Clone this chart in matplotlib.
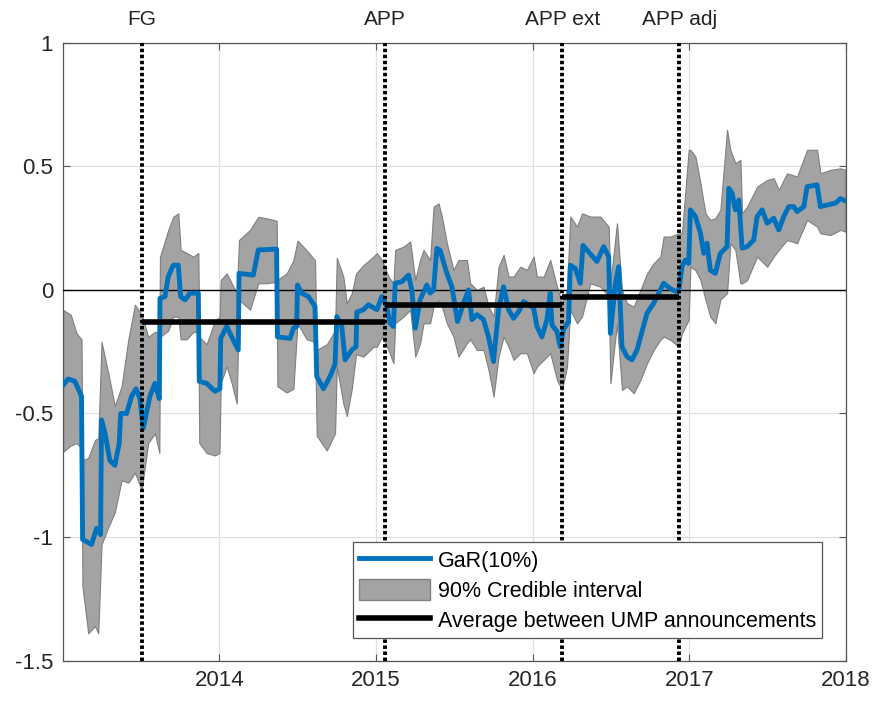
import matplotlib
matplotlib.use("Agg")
import matplotlib.pyplot as plt
import matplotlib.transforms as mtransforms
from matplotlib.patches import Patch
from matplotlib.lines import Line2D

plt.rcParams['font.family'] = ['Liberation Sans', 'DejaVu Sans']
plt.rcParams['axes.unicode_minus'] = False

# GaR(10%) path, decimal years
gar_x = [2013.002, 2013.034, 2013.077, 2013.119, 2013.126, 2013.183, 2013.215, 2013.241,
         2013.247, 2013.269, 2013.300, 2013.332, 2013.360, 2013.369, 2013.407, 2013.439,
         2013.467, 2013.492, 2013.513, 2013.556, 2013.588, 2013.616, 2013.620, 2013.652,
         2013.673, 2013.705, 2013.737, 2013.752, 2013.780, 2013.812, 2013.865, 2013.871,
         2013.918, 2013.971, 2014.003, 2014.008, 2014.046, 2014.078, 2014.120, 2014.125,
         2014.216, 2014.248, 2014.365, 2014.370, 2014.451, 2014.472, 2014.493, 2014.498,
         2014.525, 2014.568, 2014.610, 2014.621, 2014.664, 2014.706, 2014.738, 2014.749,
         2014.781, 2014.802, 2014.845, 2014.872, 2014.877, 2014.919, 2014.951,
         2015.005, 2015.037, 2015.064, 2015.090, 2015.111, 2015.122, 2015.164, 2015.207,
         2015.228, 2015.250, 2015.281, 2015.324, 2015.345, 2015.367, 2015.388, 2015.409,
         2015.452, 2015.484, 2015.520, 2015.558, 2015.590, 2015.612, 2015.644, 2015.686,
         2015.718, 2015.750, 2015.782, 2015.814, 2015.846, 2015.878, 2015.910, 2015.942,
         2015.974, 2016.006, 2016.027, 2016.059, 2016.091, 2016.112, 2016.123, 2016.155,
         2016.176, 2016.197, 2016.229, 2016.240, 2016.272, 2016.304, 2016.321, 2016.368,
         2016.410, 2016.453, 2016.485, 2016.496, 2016.528, 2016.549, 2016.570, 2016.602,
         2016.634, 2016.666, 2016.698, 2016.730, 2016.772, 2016.815, 2016.836, 2016.879,
         2016.911, 2016.932, 2016.953, 2016.975, 2016.996, 2017.007, 2017.039, 2017.071,
         2017.092, 2017.113, 2017.134, 2017.166, 2017.198, 2017.241, 2017.252, 2017.273,
         2017.294, 2017.316, 2017.337, 2017.369, 2017.411, 2017.433, 2017.465, 2017.497,
         2017.539, 2017.571, 2017.603, 2017.635, 2017.667, 2017.688, 2017.731, 2017.752,
         2017.816, 2017.837, 2017.880, 2017.933, 2017.965, 2017.997]
gar_y = [-0.385, -0.36, -0.37, -0.43, -1.01, -1.03, -0.965, -0.99,
         -0.526, -0.58, -0.69, -0.71, -0.62, -0.50, -0.50, -0.43,
         -0.40, -0.44, -0.56, -0.43, -0.378, -0.44, -0.034, -0.027,
         0.054, 0.10, 0.10, -0.027, -0.04, -0.013, -0.013, -0.37,
         -0.378, -0.41, -0.40, -0.196, -0.148, -0.19, -0.243, 0.067,
         0.06, 0.162, 0.165, -0.19, -0.196, -0.155, -0.148, 0.02,
         -0.013, -0.027, -0.067, -0.35, -0.40, -0.35, -0.30, -0.108,
         -0.148, -0.283, -0.243, -0.23, -0.09, -0.08, -0.06,
         -0.08, -0.027, -0.06, -0.135, -0.148, 0.027, 0.033, 0.06,
         0.0, -0.155, -0.04, 0.02, -0.013, 0.0, 0.168, 0.16,
         0.067, 0.013, -0.128, -0.054, 0.0, -0.12, -0.10, -0.12,
         -0.19, -0.29, -0.08, 0.013, -0.08, -0.115, -0.088, -0.047,
         -0.06, -0.074, -0.148, -0.19, -0.12, -0.013, -0.142, -0.168,
         -0.23, -0.16, -0.128, 0.10, 0.087, 0.027, 0.18, 0.146,
         0.115, 0.175, 0.135, -0.176, 0.027, 0.094, -0.23, -0.27,
         -0.283, -0.243, -0.168, -0.094, -0.054, 0.0, 0.027, 0.005,
         -0.005, -0.007, 0.094, 0.121, 0.107, 0.324, 0.297, 0.23,
         0.148, 0.189, 0.08, 0.067, 0.148, 0.175, 0.411, 0.391,
         0.324, 0.364, 0.169, 0.175, 0.202, 0.297, 0.324, 0.27,
         0.29, 0.243, 0.297, 0.337, 0.337, 0.317, 0.337, 0.418,
         0.425, 0.337, 0.344, 0.351, 0.37, 0.36]

# 90% credible interval
band_x = [2013.002, 2013.050, 2013.087, 2013.119, 2013.125, 2013.162, 2013.205, 2013.226,
          2013.247, 2013.290, 2013.332, 2013.375, 2013.418, 2013.460, 2013.503, 2013.545,
          2013.588, 2013.616, 2013.620, 2013.673, 2013.705, 2013.737, 2013.752, 2013.790,
          2013.833, 2013.865, 2013.871, 2013.918, 2013.971, 2014.000, 2014.008, 2014.046,
          2014.078, 2014.110, 2014.125, 2014.195, 2014.248, 2014.301, 2014.365, 2014.370,
          2014.429, 2014.472, 2014.498, 2014.557, 2014.610, 2014.621, 2014.685, 2014.738,
          2014.749, 2014.791, 2014.813, 2014.845, 2014.872, 2014.919, 2014.983, 2015.005,
          2015.037, 2015.079, 2015.111, 2015.122, 2015.175, 2015.218, 2015.250, 2015.281,
          2015.303, 2015.345, 2015.367, 2015.399, 2015.420, 2015.452, 2015.494, 2015.526,
          2015.580, 2015.601, 2015.644, 2015.686, 2015.718, 2015.750, 2015.782, 2015.814,
          2015.846, 2015.878, 2015.921, 2015.963, 2016.006, 2016.027, 2016.070, 2016.112,
          2016.155, 2016.187, 2016.219, 2016.240, 2016.283, 2016.315, 2016.368, 2016.432,
          2016.485, 2016.496, 2016.538, 2016.570, 2016.602, 2016.645, 2016.688, 2016.730,
          2016.772, 2016.815, 2016.836, 2016.879, 2016.932, 2016.953, 2016.996, 2017.007,
          2017.039, 2017.071, 2017.103, 2017.134, 2017.166, 2017.198, 2017.241, 2017.262,
          2017.294, 2017.326, 2017.337, 2017.369, 2017.433, 2017.497, 2017.539, 2017.571,
          2017.624, 2017.688, 2017.752, 2017.816, 2017.837, 2017.901, 2017.965, 2017.997]
band_hi = [-0.081, -0.10, -0.175, -0.20, -0.69, -0.68, -0.607, -0.60,
           -0.21, -0.337, -0.47, -0.39, -0.20, -0.06, -0.10, -0.19,
           -0.17, -0.17, 0.134, 0.243, 0.296, 0.31, 0.162, 0.15,
           0.134, 0.15, -0.19, -0.22, -0.124, -0.11, 0.04, 0.067,
           0.027, -0.013, 0.202, 0.243, 0.296, 0.29, 0.28, 0.04,
           0.067, 0.12, 0.20, 0.16, 0.12, -0.243, -0.22, -0.165,
           0.13, 0.054, -0.054, -0.013, 0.067, 0.10, 0.135, 0.149,
           0.121, 0.054, 0.027, 0.162, 0.175, 0.196, 0.04, 0.121,
           0.162, 0.121, 0.337, 0.35, 0.297, 0.189, 0.081, 0.121,
           0.121, 0.027, 0.0, 0.013, -0.067, -0.108, 0.094, 0.142,
           0.054, 0.054, 0.094, 0.081, 0.135, 0.054, 0.054, 0.121,
           0.013, -0.054, 0.0, 0.297, 0.256, 0.31, 0.297, 0.297,
           0.256, 0.027, 0.27, 0.0, -0.054, -0.067, 0.0, 0.067,
           0.108, 0.135, 0.216, 0.216, 0.229, 0.229, 0.567, 0.567,
           0.54, 0.432, 0.31, 0.283, 0.29, 0.324, 0.648, 0.567,
           0.513, 0.526, 0.31, 0.337, 0.418, 0.445, 0.452, 0.405,
           0.472, 0.459, 0.567, 0.567, 0.472, 0.486, 0.492, 0.486]
band_lo = [-0.655, -0.63, -0.62, -0.64, -1.20, -1.39, -1.36, -1.39,
           -1.03, -0.96, -0.90, -0.77, -0.78, -0.74, -0.81, -0.62,
           -0.58, -0.66, -0.19, -0.165, -0.108, -0.108, -0.20, -0.20,
           -0.17, -0.17, -0.62, -0.66, -0.67, -0.66, -0.377, -0.31,
           -0.377, -0.46, -0.04, -0.08, 0.027, 0.027, 0.033, -0.39,
           -0.415, -0.40, -0.135, -0.20, -0.21, -0.59, -0.65, -0.58,
           -0.31, -0.46, -0.51, -0.40, -0.26, -0.27, -0.23, -0.23,
           -0.189, -0.243, -0.297, -0.135, -0.108, -0.081, -0.27, -0.216,
           -0.135, -0.135, -0.067, -0.04, -0.067, -0.135, -0.189, -0.27,
           -0.216, -0.20, -0.243, -0.243, -0.324, -0.432, -0.27, -0.189,
           -0.23, -0.283, -0.256, -0.256, -0.337, -0.31, -0.283, -0.256,
           -0.364, -0.405, -0.31, -0.081, -0.135, -0.108, 0.027, 0.013,
           -0.027, -0.378, -0.135, -0.405, -0.39, -0.418, -0.364, -0.297,
           -0.243, -0.202, -0.189, -0.202, -0.23, -0.175, -0.121, 0.094,
           0.08, 0.04, -0.04, -0.108, -0.135, -0.04, -0.013, 0.189,
           0.162, 0.027, 0.027, 0.04, 0.135, 0.094, 0.135, 0.162,
           0.202, 0.189, 0.283, 0.256, 0.229, 0.222, 0.243, 0.236]

# UMP announcements and averages in between
event_names = ['FG', 'APP', 'APP ext', 'APP adj']
event_x = [2013.505, 2015.058, 2016.19, 2016.936]
avg_vals = [-0.131, -0.061, -0.027]

fig = plt.figure(figsize=(8.73, 7.02), dpi=100)
ax = fig.add_axes([0.072, 0.059, 0.897, 0.880])

blue = '#0072BD'
ax.fill_between(band_x, band_lo, band_hi, facecolor='#a3a3a3', edgecolor='#7f7f7f',
                linewidth=0.8, zorder=2)
ax.axhline(0, color='black', lw=1.0, zorder=3)
ax.plot(gar_x, gar_y, color=blue, lw=3.5, solid_joinstyle='round', zorder=4)

for i in range(3):
    ax.plot([event_x[i], event_x[i + 1]], [avg_vals[i]] * 2, color='black', lw=4,
            solid_capstyle='butt', zorder=5)

trans = mtransforms.blended_transform_factory(ax.transData, ax.transAxes)
for name, x in zip(event_names, event_x):
    ax.axvline(x, color='black', lw=2.8, linestyle=(0, (0.9, 0.65)), zorder=6)
    ax.text(x, 1.037, name, transform=trans, ha='center', va='center', fontsize=15,
            color='#222222')

ax.set_xlim(2013.0, 2018.0)
ax.set_ylim(-1.5, 1.0)
ax.set_xticks([2014, 2015, 2016, 2017, 2018])
ax.set_xticklabels(['2014', '2015', '2016', '2017', '2018'])
ax.set_yticks([-1.5, -1, -0.5, 0, 0.5, 1])
ax.set_yticklabels(['-1.5', '-1', '-0.5', '0', '0.5', '1'])
ax.grid(True, color='#e0e0e0', lw=0.9, zorder=0)
ax.set_axisbelow(True)
ax.tick_params(direction='in', labelsize=16, labelcolor='#262626', color='#555555',
               top=True, right=True, length=5, pad=7)
for s in ax.spines.values():
    s.set_color('#555555')
    s.set_linewidth(0.9)

handles = [Line2D([], [], color=blue, lw=3.5),
           Patch(facecolor='#a3a3a3', edgecolor='#7f7f7f'),
           Line2D([], [], color='black', lw=4)]
labels = ['GaR(10%)', '90% Credible interval', 'Average between UMP announcements']
leg = ax.legend(handles, labels, loc='lower right', bbox_to_anchor=(0.97, 0.036),
                fontsize=15.5, fancybox=False, edgecolor='#555555', framealpha=1,
                handlelength=3.3, handleheight=1.1, borderpad=0.3, labelspacing=0.35,
                handletextpad=0.35, borderaxespad=0)
leg.get_frame().set_linewidth(0.9)
leg.set_zorder(10)

fig.savefig('out.png', dpi=100)
